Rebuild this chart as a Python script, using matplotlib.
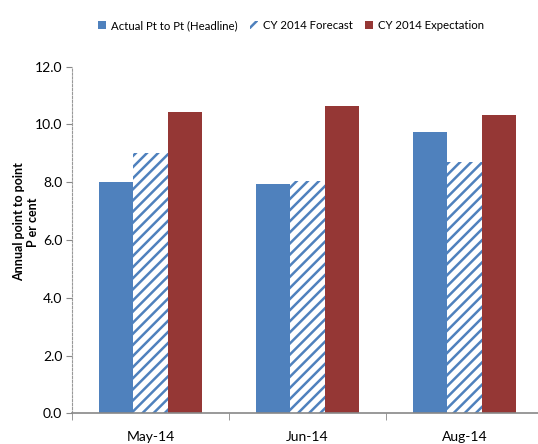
import numpy as np
import matplotlib.pyplot as plt

months = ['May-14', 'Jun-14', 'Aug-14']
actual = [8.02, 7.94, 9.74]
forecast = [9.02, 8.05, 8.70]
expectation = [10.42, 10.64, 10.34]
series_names = ['Actual Pt to Pt (Headline)', 'CY 2014 Forecast', 'CY 2014 Expectation']

blue = '#4F81BD'
red = '#953735'

plt.rcParams['font.family'] = ['Lato', 'DejaVu Sans']
plt.rcParams['hatch.linewidth'] = 1.8

fig = plt.figure(figsize=(5.38, 4.44), dpi=100)
ax = fig.add_axes([0.134, 0.069, 0.875, 0.781])

x = np.arange(len(months))
w = 0.22
ax.bar(x - w, actual, w, color=blue, label=series_names[0])
ax.bar(x, forecast, w, color='white', edgecolor=blue, hatch='///', linewidth=0,
       label=series_names[1])
ax.bar(x + w, expectation, w, color=red, label=series_names[2])

ax.set_xlim(-0.5, 2.5)
ax.set_ylim(0, 12)
yt = np.arange(0, 12.1, 2)
ax.set_yticks(yt)
ax.set_yticklabels([f'{v:.1f}' for v in yt], fontsize=10)
ax.set_xticks(x)
ax.set_xticklabels(months, fontsize=10)
ax.set_xticks([-0.5, 0.5, 1.5], minor=True)
ax.tick_params(axis='x', which='major', length=0, pad=13)
ax.tick_params(axis='x', which='minor', length=5, color='#888888')
ax.tick_params(axis='y', length=4, color='#888888', pad=3)

for s in ['top', 'right']:
    ax.spines[s].set_visible(False)
ax.spines['left'].set_linestyle((0, (2, 1.5)))
ax.spines['left'].set_color('#999999')
ax.spines['left'].set_linewidth(0.8)
ax.spines['bottom'].set_color('#888888')
ax.spines['bottom'].set_linewidth(1.2)

fig.text(0.048, 0.5, 'Annual point to point\nP er cent', rotation=90, ha='center',
         va='center', multialignment='center', fontsize=9, fontweight='bold')

fig.legend(loc='upper left', bbox_to_anchor=(0.164, 0.978), ncol=3, frameon=False,
           fontsize=8.2, handlelength=0.7, handleheight=0.7, handletextpad=0.4,
           columnspacing=1.1)

fig.savefig('out.png', dpi=100)
